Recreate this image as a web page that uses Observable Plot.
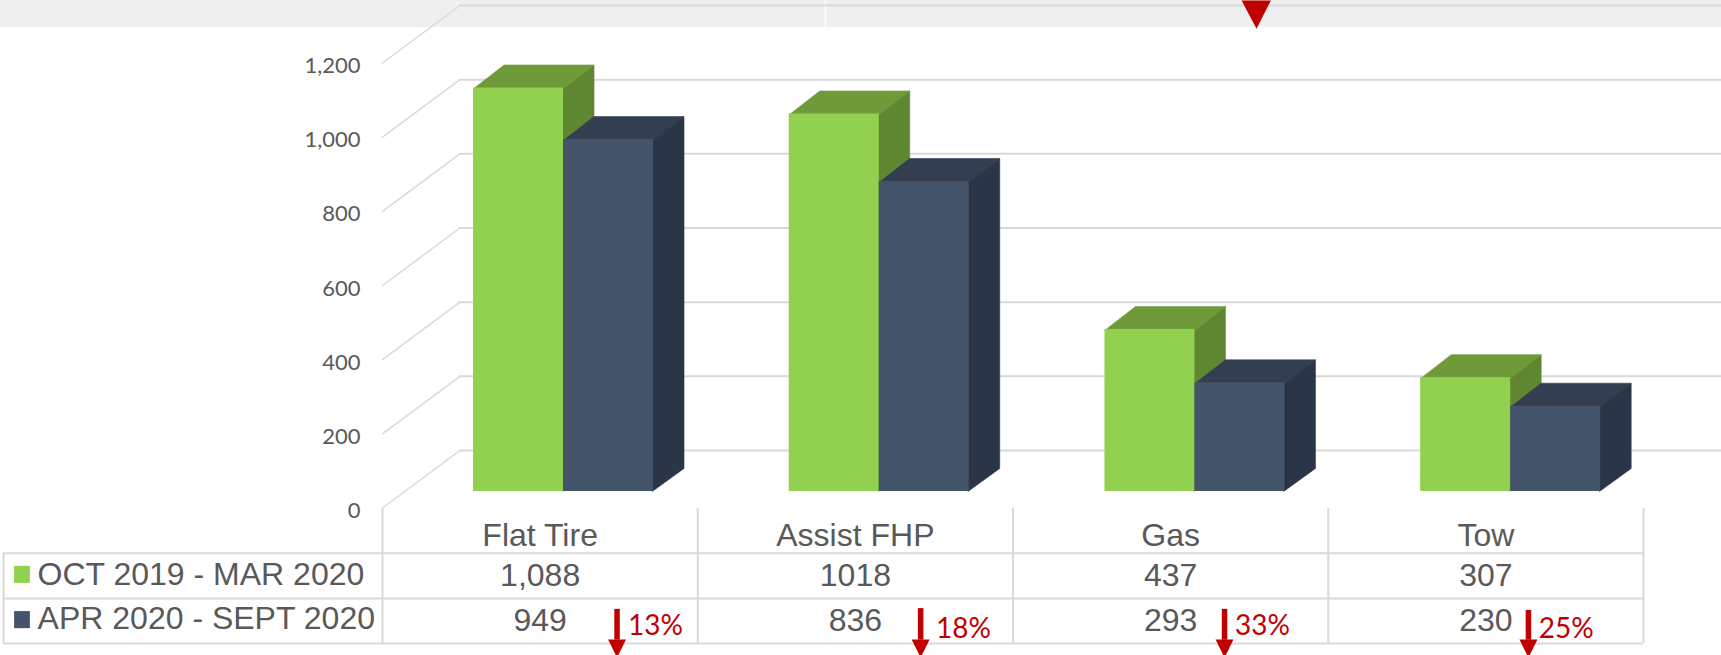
<!DOCTYPE html>
<html>
<head>
<meta charset="utf-8">
<script src="https://cdn.jsdelivr.net/npm/d3@7"></script>
<script src="https://cdn.jsdelivr.net/npm/@observablehq/plot@0.6"></script>
<style>
html,body{margin:0;padding:0;background:#fff;overflow:hidden}
svg{display:block}
</style>
</head>
<body>
<div id="chart"></div>
<script>
// --- data ---
const categories = ["Flat Tire", "Assist FHP", "Gas", "Tow"];
const series1Name = "OCT 2019 - MAR 2020";
const series2Name = "APR 2020 - SEPT 2020";
const series1 = [1088, 1018, 437, 307];
const series2 = [949, 836, 293, 230];
const series1Labels = ["1,088", "1018", "437", "307"];
const series2Labels = ["949", "836", "293", "230"];
const changeLabels = ["13%", "18%", "33%", "25%"];
const yTicks = [0, 200, 400, 600, 800, 1000, 1200];

// --- geometry, in scale units (x: category index, y: value) ---
const barStart = 0.2887, barWidth = 0.2855, barStep = 1.0015;
const depthX = 0.0967, depthY = 62;            // bar depth
const wallX = 0.2435, wallY = 153.7;           // chart-floor depth
const tableLeft = -1.202, gridRight = 4.25;
const rowLines = [-121, -243, -364];
const rowY1 = -181, rowY2 = -302;
const arrowX = [0.744, 1.707, 2.671, 3.635];
const arrowTop = [-272, -270, -272, -275];
const changeX = [0.7785, 1.7555, 2.704, 3.668];
const changeY = [-316, -324, -316, -326];
const seam = 0.004;                            // faces tuck under the front rectangle

const GRID = "#d9d9d9", TEXT = "#595959", RED = "#c00000";
const palette = [
  {front: "#92d14f", top: "#6f9a3a", side: "#5f8731"},
  {front: "#44546a", top: "#333f50", side: "#2a3647"}
];

function barMarks(values, k) {
  const c = palette[k];
  const rows = values.map((v, i) => {
    const x1 = i * barStep + barStart + k * barWidth, x2 = x1 + barWidth;
    return {i, v, x1, x2};
  });
  const side = rows.flatMap(r => [
    {z: r.i, x: r.x2 - seam, y: 0}, {z: r.i, x: r.x2 + depthX, y: depthY},
    {z: r.i, x: r.x2 + depthX, y: r.v + depthY}, {z: r.i, x: r.x2 - seam, y: r.v}
  ]);
  const top = rows.flatMap(r => [
    {z: r.i, x: r.x1, y: r.v - 2}, {z: r.i, x: r.x1 + depthX, y: r.v + depthY},
    {z: r.i, x: r.x2 + depthX, y: r.v + depthY}, {z: r.i, x: r.x2, y: r.v - 2}
  ]);
  const face = {x: "x", y: "y", z: "z", dy: -17, strokeWidth: 0.6};
  return [
    Plot.line(side, {...face, fill: c.side, stroke: c.side}),
    Plot.line(top, {...face, fill: c.top, stroke: c.top}),
    Plot.rect(rows, {x1: "x1", x2: "x2", y1: 0, y2: "v", fill: c.front, dy: -17})
  ];
}

const arrowHeads = arrowX.flatMap((x, i) => [
  {z: i, x: x - 0.0285, y: -353}, {z: i, x: x + 0.0285, y: -353}, {z: i, x, y: -402}
]);
const walls = yTicks.flatMap(t => [
  {z: t, x: 0, y: t}, {z: t, x: wallX, y: t + wallY}
]);
const cellText = {fontFamily: "Liberation Sans", fontSize: 32, fill: TEXT};

const chart = Plot.plot({
  width: 1721, height: 655,
  marginLeft: 382, marginRight: 78, marginTop: 63, marginBottom: 147,
  style: {background: "#fff"},
  x: {type: "linear", domain: [0, 4]},
  y: {type: "linear", domain: [0, 1200]},
  marks: [
    // grey band at the top of the picture
    Plot.rect([0], {x1: -1.22, x2: 4.26, y1: 1297, y2: 1372, fill: "#efefef"}),
    Plot.ruleX([1.405], {y1: 1297, y2: 1372, stroke: "#fff", strokeWidth: 1.5}),
    // back grid and walls
    Plot.ruleY(yTicks, {x1: wallX, x2: gridRight, dy: -58, stroke: GRID, strokeWidth: 2}),
    Plot.line(walls, {x: "x", y: "y", z: "z", dy: -0.5, stroke: GRID, strokeWidth: 1.5}),
    Plot.axisY({ticks: yTicks, tickSize: 0, tickPadding: 22, tickFormat: d3.format(","), label: null,
      fontFamily: "Lato", fontSize: 22, color: TEXT, dy: 2.5}),
    // bars
    ...barMarks(series1, 0),
    ...barMarks(series2, 1),
    // table
    Plot.ruleX([0, 1, 2, 3, 4], {y1: 0, y2: rowLines[2], stroke: GRID, strokeWidth: 2}),
    Plot.ruleX([tableLeft], {y1: rowLines[0], y2: rowLines[2], stroke: GRID, strokeWidth: 2}),
    Plot.ruleY(rowLines, {x1: tableLeft, x2: 4, stroke: GRID, strokeWidth: 2}),
    Plot.axisX({ticks: categories.map((_, i) => i + 0.5), tickFormat: d => categories[Math.floor(d)],
      tickSize: 0, tickPadding: 15, label: null, fontFamily: "Liberation Sans", fontSize: 32, color: TEXT}),
    Plot.text(series1Labels, {x: (_, i) => i + 0.5, y: rowY1, text: d => d, ...cellText}),
    Plot.text(series2Labels, {x: (_, i) => i + 0.5, y: rowY2, text: d => d, ...cellText}),
    // legend keys inside the table
    Plot.rect([0], {x1: -1.167, x2: -1.117, y1: -156, y2: -202, fill: palette[0].front}),
    Plot.rect([0], {x1: -1.167, x2: -1.117, y1: -278, y2: -324, fill: palette[1].front}),
    Plot.text([series1Name], {x: -1.094, y: -179, text: d => d, textAnchor: "start", ...cellText}),
    Plot.text([series2Name], {x: -1.094, y: -298, text: d => d, textAnchor: "start", ...cellText}),
    // change arrows and labels
    Plot.ruleX(arrowX, {y1: (_, i) => arrowTop[i], y2: -355, stroke: RED, strokeWidth: 5.5}),
    Plot.line(arrowHeads, {x: "x", y: "y", z: "z", fill: RED, stroke: "none"}),
    Plot.text(changeLabels, {x: (_, i) => changeX[i], y: (_, i) => changeY[i], text: d => d,
      textAnchor: "start", fontFamily: "Lato", fontSize: 28, fill: RED}),
    // large red triangle cut by the top edge
    Plot.line([{x: 2.725, y: 1370}, {x: 2.818, y: 1370}, {x: 2.7725, y: 1294}],
      {x: "x", y: "y", fill: RED, stroke: "none"})
  ]
});
document.getElementById("chart").append(chart);
</script>
</body>
</html>
